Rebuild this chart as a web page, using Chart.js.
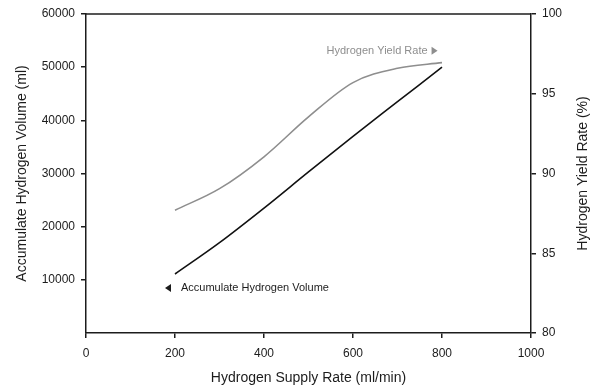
<!DOCTYPE html>
<html>
<head>
<meta charset="utf-8">
<script src="https://cdn.jsdelivr.net/npm/chart.js@4/dist/chart.umd.min.js"></script>
<style>
  html, body { margin: 0; padding: 0; background: #fff; }
  canvas { display: block; }
</style>
</head>
<body>
<canvas id="chart" width="598" height="389"></canvas>
<script>
// Hydrogen supply rate (ml/min) and the two measured series
const supplyRate = [200, 300, 400, 500, 600, 700, 800];
const accumulatedVolume = [11100, 17000, 23500, 30300, 37000, 43500, 50000]; // ml
const yieldRate = [87.7, 89.05, 91.05, 93.55, 95.7, 96.6, 96.95];             // %

const xTicks = [0, 200, 400, 600, 800, 1000];
const volumeTicks = [10000, 20000, 30000, 40000, 50000, 60000];
const yieldTicks = [80, 85, 90, 95, 100];

const FONT = "'Liberation Sans', Arial, Helvetica, sans-serif";
const INK = '#1c1c1c';
const GREY = '#8e8e8e';

Chart.defaults.font.family = FONT;
Chart.defaults.color = INK;

const pairs = (xs, ys) => xs.map((x, i) => ({ x, y: ys[i] }));

// Frame top edge, right-hand axis title and the two series labels
const decorations = {
  id: 'decorations',
  afterDraw(chart) {
    const { ctx, chartArea, scales } = chart;
    ctx.save();
    ctx.strokeStyle = INK;
    ctx.lineWidth = 1.5;
    ctx.beginPath();
    ctx.moveTo(chartArea.left, chartArea.top);
    ctx.lineTo(chartArea.right, chartArea.top);
    ctx.stroke();

    // right axis title, reading bottom to top
    ctx.save();
    ctx.translate(583, (chartArea.top + chartArea.bottom) / 2);
    ctx.rotate(-Math.PI / 2);
    ctx.font = '14px ' + FONT;
    ctx.fillStyle = INK;
    ctx.textAlign = 'center';
    ctx.textBaseline = 'middle';
    ctx.fillText('Hydrogen Yield Rate (%)', 0, 0);
    ctx.restore();

    ctx.font = '11px ' + FONT;
    ctx.textBaseline = 'middle';

    // yield rate label, arrow pointing right to the right axis
    const gx = scales.x.getPixelForValue(790);
    const gy = scales.yYield.getPixelForValue(97.7);
    ctx.fillStyle = GREY;
    ctx.beginPath();
    ctx.moveTo(gx, gy);
    ctx.lineTo(gx - 6, gy - 4);
    ctx.lineTo(gx - 6, gy + 4);
    ctx.closePath();
    ctx.fill();
    ctx.textAlign = 'right';
    ctx.fillText('Hydrogen Yield Rate', gx - 10, gy);

    // volume label, arrow pointing left to the left axis
    const bx = scales.x.getPixelForValue(177.5);
    const by = scales.yVolume.getPixelForValue(8450);
    ctx.fillStyle = INK;
    ctx.beginPath();
    ctx.moveTo(bx, by);
    ctx.lineTo(bx + 6, by - 4);
    ctx.lineTo(bx + 6, by + 4);
    ctx.closePath();
    ctx.fill();
    ctx.textAlign = 'left';
    ctx.fillText('Accumulate Hydrogen Volume', bx + 16, by);
    ctx.restore();
  }
};

const plainNumber = v => String(v);

const axisBase = {
  border: { display: true, color: INK, width: 1.5 },
  grid: { drawOnChartArea: false, drawTicks: true, tickLength: 5, color: INK, lineWidth: 1.5 },
  ticks: { font: { size: 12 }, color: INK, padding: 6, callback: plainNumber }
};

new Chart(document.getElementById('chart'), {
  type: 'line',
  data: {
    datasets: [
      {
        label: 'Accumulate Hydrogen Volume',
        data: pairs(supplyRate, accumulatedVolume),
        yAxisID: 'yVolume',
        borderColor: '#111',
        borderWidth: 1.6,
        pointRadius: 0,
        cubicInterpolationMode: 'monotone'
      },
      {
        label: 'Hydrogen Yield Rate',
        data: pairs(supplyRate, yieldRate),
        yAxisID: 'yYield',
        borderColor: GREY,
        borderWidth: 1.6,
        pointRadius: 0,
        cubicInterpolationMode: 'monotone'
      }
    ]
  },
  options: {
    responsive: false,
    animation: false,
    layout: { padding: { top: 14, left: 0, right: 0, bottom: 0 } },
    plugins: { legend: { display: false }, tooltip: { enabled: false } },
    scales: {
      x: {
        ...axisBase,
        type: 'linear',
        min: 0, max: 1000,
        afterBuildTicks: s => { s.ticks = xTicks.map(v => ({ value: v })); },
        ticks: { ...axisBase.ticks, padding: 8 },
        title: { display: true, text: 'Hydrogen Supply Rate (ml/min)', font: { size: 14 }, color: INK, padding: { top: 0, bottom: 2 } },
        afterFit: s => { s.height = 56; }
      },
      yVolume: {
        ...axisBase,
        position: 'left',
        min: 0, max: 60000,
        afterBuildTicks: s => { s.ticks = volumeTicks.map(v => ({ value: v })); },
        title: { display: true, text: 'Accumulate Hydrogen Volume (ml)', font: { size: 14 }, color: INK, padding: { top: 14, bottom: 0 } },
        afterFit: s => { s.width = 86; }
      },
      yYield: {
        ...axisBase,
        position: 'right',
        min: 80, max: 100,
        afterBuildTicks: s => { s.ticks = yieldTicks.map(v => ({ value: v })); },
        afterFit: s => { s.width = 67; }
      }
    }
  },
  plugins: [decorations]
});
</script>
</body>
</html>
